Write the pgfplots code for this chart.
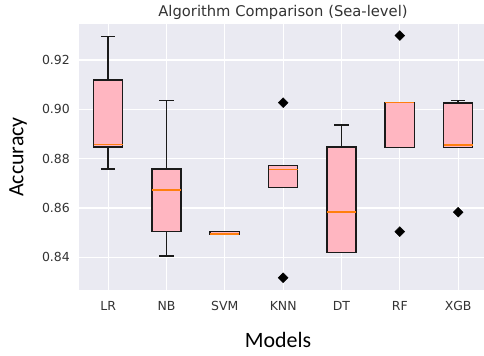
\documentclass[border=0pt]{standalone}
\usepackage{fontspec}
\setmainfont{DejaVu Sans}
\newfontfamily\calib{Carlito}
\usepackage{pgfplots}
\pgfplotsset{compat=1.18}
\usepgfplotslibrary{statistics}
\definecolor{bg}{HTML}{EAEAF2}
\definecolor{boxpink}{HTML}{FFB6C1}
\definecolor{medorange}{HTML}{FF7F0E}
\definecolor{edge}{HTML}{1A1A1A}
\definecolor{txt}{HTML}{333333}
\begin{document}
\begin{tikzpicture}
\useasboundingbox (-79bp,-66.5bp) rectangle (405bp,289.5bp);
\begin{axis}[
  at={(0,0)}, anchor=south west,
  width=405bp, height=265.5bp, scale only axis,
  xmin=0.5, xmax=7.443, ymin=0.82694, ymax=0.9346,
  axis background/.style={fill=bg},
  axis line style={draw=none},
  grid=major, major grid style={white, line width=1.2bp},
  major tick length=0pt,
  xtick={1,2,3,4,5,6,7}, xticklabels={LR,NB,SVM,KNN,DT,RF,XGB},
  ytick={0.84,0.86,0.88,0.90,0.92},
  /pgf/number format/assume math mode=true,
  yticklabel style={/pgf/number format/fixed, /pgf/number format/fixed zerofill, /pgf/number format/precision=2, inner sep=0pt, anchor=east, xshift=-9bp},
  xticklabel style={inner sep=0pt, anchor=north, yshift=-11.5bp},
  tick label style={font=\fontsize{12.5}{15}\selectfont, text=txt},
  boxplot/draw direction=y,
  boxplot/box extend=0.5,
  boxplot/whisker extend=0.25,
  boxplot/every box/.style={fill=boxpink, draw=edge, line width=1.5bp},
  boxplot/every whisker/.style={draw=edge, line width=1.5bp},
  boxplot/every median/.style={draw=medorange, line width=1.5bp},
  bx/.style={draw=edge, line width=1.5bp, mark=none},
]
\addplot[bx, boxplot prepared={draw direction=y, draw position=1, lower whisker=0.8758, lower quartile=0.8847, median=0.8857, upper quartile=0.9119, upper whisker=0.9295}] coordinates {};
\addplot[bx, boxplot prepared={draw direction=y, draw position=2, lower whisker=0.8405, lower quartile=0.8504, median=0.8673, upper quartile=0.8758, upper whisker=0.9035}] coordinates {};
\addplot[bx, boxplot prepared={draw direction=y, draw position=3, lower whisker=0.8493, lower quartile=0.8493, median=0.8495, upper quartile=0.8505, upper whisker=0.8505}] coordinates {};
\addplot[bx, boxplot prepared={draw direction=y, draw position=4, lower whisker=0.8682, lower quartile=0.8682, median=0.8757, upper quartile=0.8772, upper whisker=0.8772}] coordinates {};
\addplot[bx, boxplot prepared={draw direction=y, draw position=5, lower whisker=0.8420, lower quartile=0.8420, median=0.8583, upper quartile=0.8847, upper whisker=0.8937}] coordinates {};
\addplot[bx, boxplot prepared={draw direction=y, draw position=6, lower whisker=0.8846, lower quartile=0.8846, median=0.9027, upper quartile=0.9027, upper whisker=0.9027}] coordinates {};
\addplot[bx, boxplot prepared={draw direction=y, draw position=7, lower whisker=0.8846, lower quartile=0.8846, median=0.8856, upper quartile=0.9025, upper whisker=0.9035}] coordinates {};
% outliers
\addplot[only marks, mark=square*, mark size=3.5bp, mark options={rotate=45, fill=black, draw=none}] coordinates {(4,0.9027) (4,0.8317) (6,0.9299) (6,0.8504) (7,0.8583)};
\end{axis}
\node[text=txt, font=\fontsize{14.8}{17}\selectfont] at (204bp,277.5bp) {Algorithm Comparison (Sea-level)};
\node[rotate=90, font=\calib\fontsize{22}{26}\selectfont] at (-61bp,132.5bp) {Accuracy};
\node[font=\calib\fontsize{22}{26}\selectfont] at (199bp,-50bp) {Models};
\end{tikzpicture}
\end{document}
